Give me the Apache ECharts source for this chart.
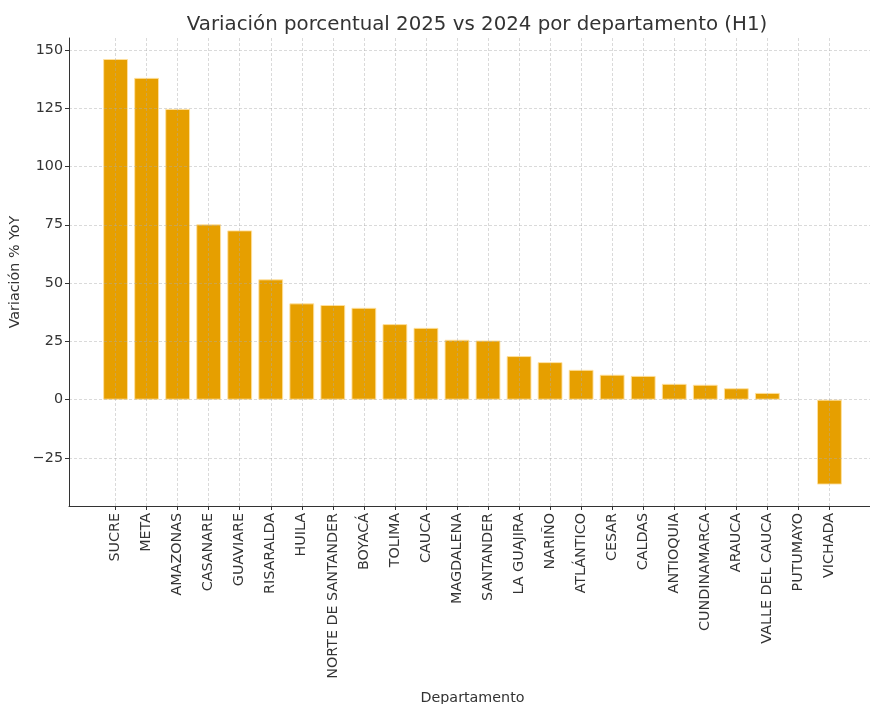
<!DOCTYPE html>
<html>
<head>
<meta charset="utf-8">
<script src="https://cdn.jsdelivr.net/npm/echarts@6/dist/echarts.min.js"></script>
<style>
html,body{margin:0;padding:0;background:#fff;}
#chart{width:870px;height:704px;}
</style>
</head>
<body>
<div id="chart"></div>
<script>
const categories = ['SUCRE','META','AMAZONAS','CASANARE','GUAVIARE','RISARALDA','HUILA','NORTE DE SANTANDER','BOYACÁ','TOLIMA','CAUCA','MAGDALENA','SANTANDER','LA GUAJIRA','NARIÑO','ATLÁNTICO','CESAR','CALDAS','ANTIOQUIA','CUNDINAMARCA','ARAUCA','VALLE DEL CAUCA','PUTUMAYO','VICHADA'];
const variation = [146.1,138.0,124.7,75.2,72.6,51.6,41.3,40.6,39.4,32.4,30.8,25.7,25.4,18.7,16.1,12.8,10.7,10.2,6.8,6.4,4.9,2.9,0,-36.4];
const yTicks = [-25,0,25,50,75,100,125,150];

const FONT = 'DejaVu Sans';
// pad one empty slot on each side to reproduce the axis margins
const axisCats = [''].concat(categories, ['']);
const barData = [null].concat(variation.map(v => v === 0 ? {value:v, itemStyle:{borderWidth:0}} : v), [null]);
const isReal = (i) => i > 0 && i <= categories.length;
const gridColor = 'rgba(170,170,170,0.55)';
// y split lines: hide the ones at the axis extents (bottom and top)
const ySplitColors = ['rgba(0,0,0,0)'].concat(yTicks.map(() => gridColor), ['rgba(0,0,0,0)']);

const chart = echarts.init(document.getElementById('chart'), null, {renderer:'canvas'});
chart.setOption({
  backgroundColor:'#ffffff',
  animation:false,
  title:{
    text:'Variación porcentual 2025 vs 2024 por departamento (H1)',
    left:472, top:10, textAlign:'center',
    textStyle:{fontFamily:FONT, fontSize:19.8, fontWeight:'normal', color:'#333'}
  },
  grid:{left:69, top:38, width:807, bottom:198, containLabel:false, outerBoundsMode:'none'},
  xAxis:{
    type:'category',
    data:axisCats,
    boundaryGap:true,
    z:3,
    name:'Departamento',
    nameLocation:'middle',
    nameGap:185,
    nameTextStyle:{fontFamily:FONT, fontSize:14.3, color:'#333'},
    axisLine:{show:true, onZero:false, lineStyle:{color:'#333', width:1}},
    axisTick:{show:true, alignWithLabel:true, length:4, interval:(i)=>isReal(i), lineStyle:{color:'#333'}},
    axisLabel:{rotate:90, interval:0, margin:7, fontFamily:FONT, fontSize:14.3, color:'#333'},
    splitLine:{show:true, alignWithLabel:true, interval:(i)=>isReal(i), lineStyle:{color:gridColor, type:[3,2], width:0.8}}
  },
  yAxis:{
    type:'value',
    min:-45.6, max:155.1,
    minInterval:25, maxInterval:25,
    z:3,
    name:'Variación % YoY',
    nameLocation:'middle',
    nameGap:38,
    nameTextStyle:{fontFamily:FONT, fontSize:14.3, color:'#333'},
    axisLine:{show:true, lineStyle:{color:'#333', width:1}},
    axisTick:{show:true, length:4, lineStyle:{color:'#333'}},
    axisLabel:{
      showMinLabel:false, showMaxLabel:false,
      fontFamily:FONT, fontSize:14.3, color:'#333', margin:6,
      formatter:(v)=> yTicks.indexOf(Math.round(v))>=0 && Math.abs(v-Math.round(v))<1e-6 ? String(Math.round(v)).replace('-','\u2212') : ''
    },
    splitLine:{show:true, lineStyle:{color:ySplitColors, type:[3,2], width:0.8}}
  },
  series:[{
    type:'bar',
    data:barData,
    barWidth:'80%',
    itemStyle:{color:'#E69F00', borderColor:'rgba(255,225,160,0.9)', borderWidth:1},
    z:2
  }]
});
</script>
</body>
</html>
